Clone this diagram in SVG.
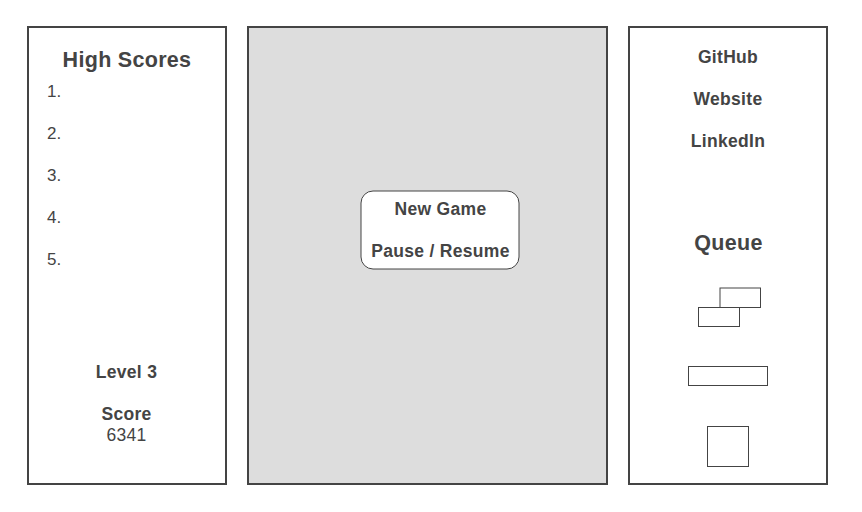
<svg xmlns="http://www.w3.org/2000/svg" width="862" height="512" viewBox="0 0 862 512">
<style>
.panel{fill:#ffffff;stroke:#444444;stroke-width:2}
.piece{fill:#ffffff;stroke:#444444;stroke-width:1}
text{font-family:"Liberation Sans",Arial,sans-serif;fill:#444444}
.b{font-weight:bold;font-size:17.5px;letter-spacing:0.3px;text-anchor:middle}
.h{font-weight:bold;font-size:21.5px;letter-spacing:0.3px;text-anchor:middle}
.n{font-size:17px}
.c{font-size:17.5px;letter-spacing:0.3px;text-anchor:middle}
</style>
<rect width="862" height="512" fill="#ffffff"/>
<g id="highscores">
<rect class="panel" x="28" y="27" width="198" height="457"/>
<text class="h" x="127" y="67">High Scores</text>
<text class="n" x="47" y="97">1.</text>
<text class="n" x="47" y="139">2.</text>
<text class="n" x="47" y="181">3.</text>
<text class="n" x="47" y="223">4.</text>
<text class="n" x="47" y="265">5.</text>
<text class="b" x="126.5" y="378">Level 3</text>
<text class="b" x="126.5" y="420">Score</text>
<text class="c" x="126.5" y="441">6341</text>
</g>
<g id="board">
<rect class="panel" x="248" y="27" width="359" height="457" style="fill:#dddddd"/>
</g>
<g id="menu">
<rect class="panel" x="361" y="191" width="158" height="78" rx="12" style="stroke-width:1"/>
<text class="b" x="440.5" y="215">New Game</text>
<text class="b" x="440.5" y="257">Pause / Resume</text>
</g>
<g id="sidebar">
<rect class="panel" x="629" y="27" width="198" height="457"/>
<text class="b" x="728" y="63">GitHub</text>
<text class="b" x="728" y="105">Website</text>
<text class="b" x="728" y="147">LinkedIn</text>
<text class="h" x="728.5" y="250">Queue</text>
</g>
<g id="queue">
<rect class="piece" x="720" y="288" width="40.5" height="19.5"/>
<rect class="piece" x="698.5" y="307.5" width="41" height="19"/>
<rect class="piece" x="688.5" y="366.5" width="79" height="19"/>
<rect class="piece" x="707.5" y="426.5" width="41" height="40"/>
</g>
<g id="connectors"/>
</svg>
